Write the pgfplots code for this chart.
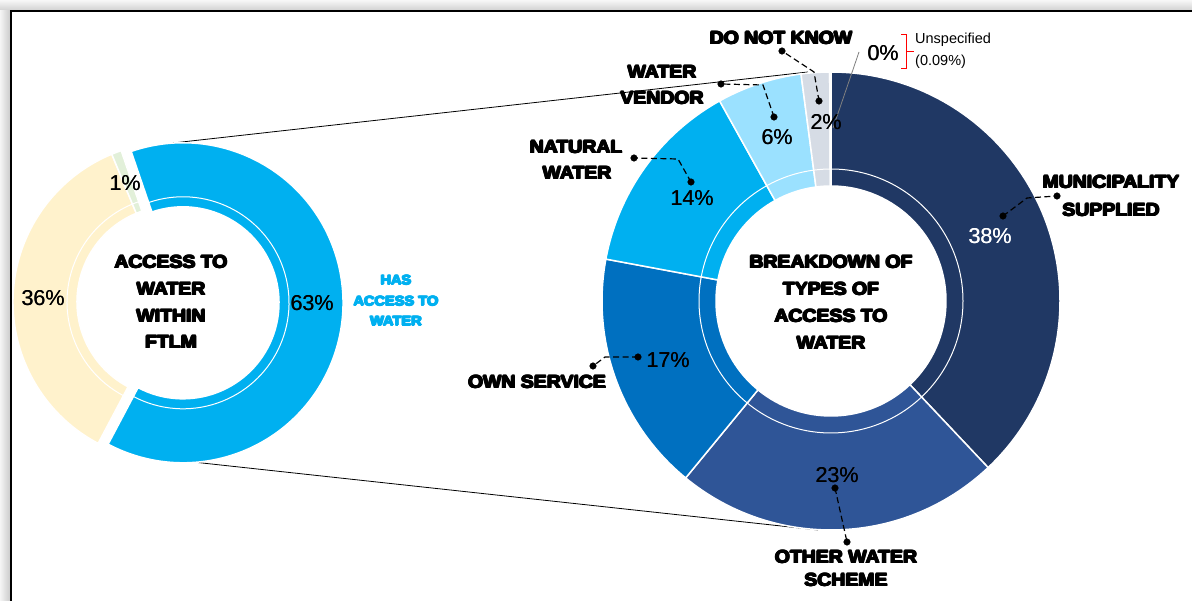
\documentclass[border=0pt]{standalone}
\usepackage{pgfplots}
\pgfplotsset{compat=1.18}
\usetikzlibrary{calc}
\usepackage{fontspec}
\setmainfont{Liberation Sans}
\newfontfamily\heavy[FakeStretch=1.08]{Liberation Sans Bold}

\definecolor{cMun}{HTML}{203864}
\definecolor{cOth}{HTML}{2F5597}
\definecolor{cOwn}{HTML}{0070C0}
\definecolor{cNat}{HTML}{00B0F0}
\definecolor{cVen}{HTML}{9BE1FF}
\definecolor{cDnk}{HTML}{D6DCE5}
\definecolor{cUns}{HTML}{ADB9CA}
\definecolor{cHas}{HTML}{00B0F0}
\definecolor{cNo}{HTML}{FFF2CC}
\definecolor{cOne}{HTML}{E2F0D9}

% annular sector: cx cy rin rring rout a1 a2 colour
\newcommand{\annulus}[8]{%
  \fill[#8, draw=white, line width=1.5pt] ($(axis cs:#1,#2)+(#6:#5pt)$) arc[start angle=#6, end angle=#7, radius=#5pt] -- ($(axis cs:#1,#2)+(#7:#3pt)$) arc[start angle=#7, end angle=#6, radius=#3pt] -- cycle;
  \draw[white, line width=1pt] ($(axis cs:#1,#2)+(#6:#4pt)$) arc[start angle=#6, end angle=#7, radius=#4pt];
}
% right donut slice: cumulative start, value, colour (total 100.09)
\newcommand{\sliceR}[3]{%
  \pgfmathsetmacro\aA{90-(3.6/1.0009)*(#1)}%
  \pgfmathsetmacro\aB{90-(3.6/1.0009)*(#1+#2)}%
  \edef\tmp{\noexpand\annulus{831}{301}{115}{132}{229}{\aA}{\aB}{#3}}\tmp}
% left donut slice: cx, cy, cumulative start, value, colour (total 100)
\newcommand{\sliceL}[5]{%
  \pgfmathsetmacro\aA{108.9-3.6*(#3)}%
  \pgfmathsetmacro\aB{108.9-3.6*(#3+#4)}%
  \edef\tmp{\noexpand\annulus{#1}{#2}{96}{106}{160}{\aA}{\aB}{#5}}\tmp}

\tikzset{
  hv/.style={font=\heavy\fontsize{18}{20}\selectfont, inner sep=0pt, anchor=center},
  hb/.style={font=\heavy\fontsize{13.5}{15}\selectfont, inner sep=0pt, anchor=center, text=cNat},
  pc/.style={font=\fontsize{21.5}{24}\selectfont, inner sep=0pt, anchor=center},
  sm/.style={font=\fontsize{14.5}{16}\selectfont, inner sep=0pt, anchor=west},
  ld/.style={black, line width=1.2pt, dash pattern=on 6pt off 3.5pt},
}
% heavy (black-weight) label: text drawn several times with small offsets
\newcommand{\HV}[4][hv]{%
  \node[#1] at (axis cs:#2,#3) {#4};
  \node[#1, xshift=0.8pt] at (axis cs:#2,#3) {#4};
  \node[#1, xshift=-0.8pt] at (axis cs:#2,#3) {#4};
  \node[#1, yshift=0.5pt] at (axis cs:#2,#3) {#4};
  \node[#1, yshift=-0.5pt] at (axis cs:#2,#3) {#4};
  \node[#1, xshift=0.5pt, yshift=0.4pt] at (axis cs:#2,#3) {#4};
  \node[#1, xshift=-0.5pt, yshift=-0.4pt] at (axis cs:#2,#3) {#4};}
\newcommand{\PC}[4][pc]{%
  \node[#1] at (axis cs:#2,#3) {#4};
  \node[#1, xshift=0.3pt] at (axis cs:#2,#3) {#4};}

\begin{document}
\begin{tikzpicture}
\begin{axis}[x=1pt, y=1pt, xmin=0, xmax=1192, ymin=0, ymax=601, y dir=reverse,
  hide axis, clip=false, scale only axis]
\coordinate (BL) at (axis cs:0,601);
\coordinate (TR) at (axis cs:1192,0);
% frame
\fill[white] (axis cs:0,0) rectangle (axis cs:1192,601);
\shade[left color=gray!8, right color=gray!40] (axis cs:0,0) rectangle (axis cs:10,601);
\shade[top color=gray!6, bottom color=gray!35] (axis cs:0,0) rectangle (axis cs:1192,10);
\draw[black, line width=2pt] (axis cs:11,601) -- (axis cs:11,11) -- (axis cs:1192,11);

% connector lines
\addplot[black, line width=0.8pt] coordinates {(173,143) (808,72)};
\addplot[black, line width=0.8pt] coordinates {(193,462) (818,530)};

% left donut: has access 63, no access 36, other 1
\sliceL{183}{302.8}{0}{63}{cHas}
\sliceL{173}{302}{63}{36}{cNo}
\sliceL{173}{302}{99}{1}{cOne}

% right donut
\sliceR{0}{38}{cMun}
\sliceR{38}{23}{cOth}
\sliceR{61}{17}{cOwn}
\sliceR{78}{14}{cNat}
\sliceR{92}{6}{cVen}
\sliceR{98}{2}{cDnk}
\sliceR{100}{0.09}{cUns}

% leader lines
\addplot[ld] coordinates {(1003,216) (1027,198) (1057,196)};
\addplot[ld] coordinates {(835,488) (847,542)};
\addplot[ld] coordinates {(638,357) (605,357) (593,366)};
\addplot[ld] coordinates {(691,182) (678,159) (634,158)};
\addplot[ld] coordinates {(774,117) (763,85) (721,84)};
\addplot[ld] coordinates {(819,101) (814,72) (782,51)};
\addplot[only marks, mark=*, mark size=3.3pt, black] coordinates {
 (1003,216) (1057,196) (835,488) (847,542) (638,357) (593,366)
 (691,182) (634,158) (774,117) (721,84) (819,101) (782,51)};
\addplot[gray, line width=0.8pt] coordinates {(859,52) (833,128)};
\addplot[red, line width=1pt] coordinates {(901,35) (906,35) (906,69) (901,69)};
\addplot[red, line width=1pt] coordinates {(906,52) (914,52)};

% percent labels
\PC{125}{183}{1\%}
\PC{43}{298}{36\%}
\PC{312}{303}{63\%}
\PC[pc, text=white]{990}{236}{38\%}
\PC{837}{475}{23\%}
\PC{668}{360}{17\%}
\PC{692}{198}{14\%}
\PC{777}{137}{6\%}
\PC{826}{122}{2\%}
\PC{883}{53}{0\%}

% category labels
\HV{1111}{182}{MUNICIPALITY}
\HV{1111}{210}{SUPPLIED}
\HV{846}{557}{OTHER WATER}
\HV{846}{580}{SCHEME}
\HV{537}{382}{OWN SERVICE}
\HV{576}{147}{NATURAL}
\HV{577}{173}{WATER}
\HV{662}{72}{WATER}
\HV{662}{98}{VENDOR}
\HV{781}{38}{DO NOT KNOW}
\node[sm] at (axis cs:915,40) {Unspecified};
\node[sm] at (axis cs:915,62) {(0.09\%)};

% centre titles
\HV{171}{262}{ACCESS TO}
\HV{171}{289}{WATER}
\HV{171}{316}{WITHIN}
\HV{171}{342}{FTLM}
\HV{831}{262}{BREAKDOWN OF}
\HV{831}{289}{TYPES OF}
\HV{831}{316}{ACCESS TO}
\HV{831}{343}{WATER}
\HV[hb]{396}{280}{HAS}
\HV[hb]{396}{301}{ACCESS TO}
\HV[hb]{396}{321}{WATER}
\end{axis}
\pgfresetboundingbox
\useasboundingbox (BL) rectangle (TR);
\end{tikzpicture}
\end{document}
